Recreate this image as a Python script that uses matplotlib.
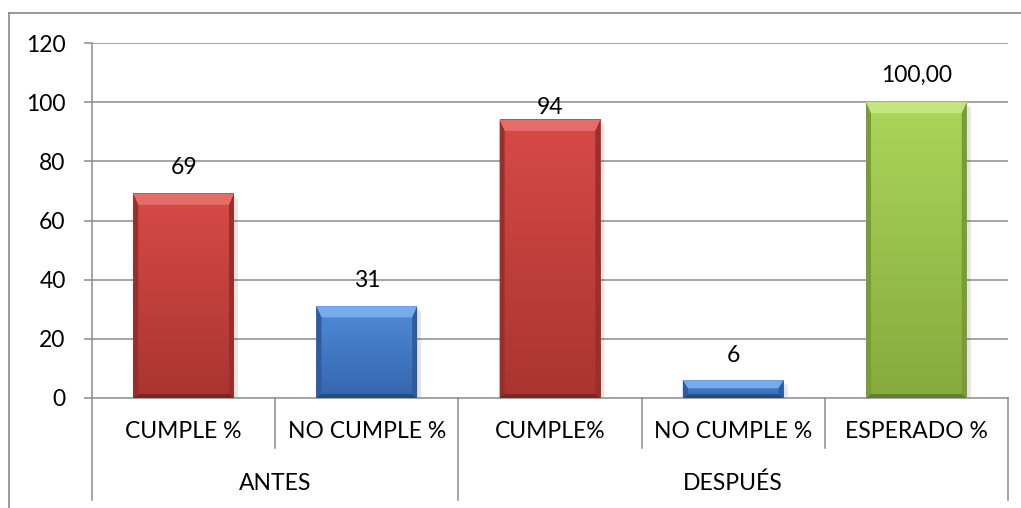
import matplotlib
matplotlib.use("Agg")
import matplotlib.pyplot as plt
import numpy as np
from matplotlib.colors import to_rgb
from matplotlib.patches import Polygon
from matplotlib.lines import Line2D

# ---- data ----
groups = ["ANTES", "DESPUÉS"]
group_sizes = [2, 3]
categories = ["CUMPLE %", "NO CUMPLE %", "CUMPLE%", "NO CUMPLE %", "ESPERADO %"]
values = [69, 31, 94, 6, 100]
decimals = [0, 0, 0, 0, 2]
y_ticks = [0, 20, 40, 60, 80, 100, 120]

# ---- style ----
palettes = {
    "red":   dict(top="#D74A46", bottom="#AA3431", bevel="#E56C68", side="#9A2E2B", base="#7E2422"),
    "blue":  dict(top="#508BD7", bottom="#3466AE", bevel="#78ABEB", side="#2F5C9E", base="#244A82"),
    "green": dict(top="#AAD65A", bottom="#86AB3E", bevel="#C3E67E", side="#7A9C36", base="#62802A"),
}
bar_palettes = ["red", "blue", "red", "blue", "green"]
label_offsets_px = [26, 26, 12, 25, 27]
grid_color = "#8C8C8C"
text_color = "#000000"
font = "Lato"
fsize = 16.5

W, H = 1021, 508
fig = plt.figure(figsize=(W / 100, H / 100), dpi=100)
fig.patch.set_facecolor("white")

ax_left, ax_right, ax_bottom, ax_top = 92, 1008, 398, 43
ax = fig.add_axes([ax_left / W, (H - ax_bottom) / H,
                   (ax_right - ax_left) / W, (ax_bottom - ax_top) / H])
n = len(categories)
xs = np.arange(n)
ax.set_xlim(-0.5, n - 0.5)
ax.set_ylim(0, 120)

# outer chart frame
fig.add_artist(Line2D([9 / W, 1.0], [(H - 13) / H] * 2, color="#898989", lw=1.2))
fig.add_artist(Line2D([9 / W] * 2, [0, (H - 13) / H], color="#898989", lw=1.2))

# grid and axes
for y in y_ticks[1:]:
    ax.axhline(y, color=grid_color, lw=1.1, zorder=1)
for s in ["top", "right"]:
    ax.spines[s].set_visible(False)
ax.spines["bottom"].set_color(grid_color)
ax.spines["bottom"].set_linewidth(1.1)
ax.spines["left"].set_visible(False)
ax.set_yticks(y_ticks)
ax.set_yticklabels([str(t) for t in y_ticks], fontsize=fsize, family=font, color=text_color)
ax.tick_params(axis="y", length=6, width=1.1, color=grid_color, pad=13, direction="out")
ax.set_xticks([])

bars = ax.bar(xs, values, width=0.55, color="none", edgecolor="none", zorder=3)

ax.figure.canvas.draw()
to_disp = ax.transData
to_data = ax.transData.inverted()


def blend(c1, c2, t):
    a, b = np.array(to_rgb(c1)), np.array(to_rgb(c2))
    return a + (b - a) * t


for patch, pal_name in zip(bars, bar_palettes):
    pal = palettes[pal_name]
    x0, y0 = patch.get_x(), patch.get_y()
    x1, y1 = x0 + patch.get_width(), y0 + patch.get_height()
    # body gradient, lighter at the top
    grad = np.array([blend(pal["top"], pal["bottom"], t) for t in np.linspace(0, 1, 64)])
    ax.imshow(grad[:, None, :], extent=(x0, x1, y0, y1), aspect="auto",
              interpolation="bilinear", zorder=3, origin="upper")
    (L, B), (R, T) = to_disp.transform([(x0, y0), (x1, y1)])
    hpx = T - B
    t = min(11, hpx * 0.45)
    s = 5
    b = min(4, hpx * 0.2)
    # soft shadow on the right
    sh = [(R, T - 3), (R + 4, T - 5), (R + 4, B), (R, B)]
    ax.add_patch(Polygon(to_data.transform(sh), closed=True, facecolor="#000000",
                         alpha=0.10, edgecolor="none", zorder=2))
    faces = [
        ([(L, T), (R, T), (R - s, T - t), (L + s, T - t)], pal["bevel"]),
        ([(L, T), (L + s, T - t), (L + s, B + b), (L, B)], pal["side"]),
        ([(R, T), (R, B), (R - s, B + b), (R - s, T - t)], pal["side"]),
        ([(L, B), (L + s, B + b), (R - s, B + b), (R, B)], pal["base"]),
    ]
    for pts, col in faces:
        ax.add_patch(Polygon(to_data.transform(pts), closed=True, facecolor=col,
                             edgecolor="none", zorder=4))

ax.set_xlim(-0.5, n - 0.5)
ax.set_ylim(0, 120)

# value labels
for x, v, d, off in zip(xs, values, decimals, label_offsets_px):
    txt = f"{v:.{d}f}".replace(".", ",")
    ax.annotate(txt, (x, v), xytext=(0, off * 0.72), textcoords="offset points",
                ha="center", va="center", fontsize=fsize, family=font, color=text_color,
                zorder=6)

# two-level category axis
ax_h = ax_bottom - ax_top
short_y = -(448 - ax_bottom) / ax_h
long_y = -(500 - ax_bottom) / ax_h
cat_y = -(432 - ax_bottom) / ax_h
grp_y = -(483 - ax_bottom) / ax_h
trans = ax.get_xaxis_transform()

bounds = np.cumsum([0] + group_sizes) - 0.5
for i in range(n + 1):
    xb = i - 0.5
    is_group_edge = np.any(np.isclose(bounds, xb))
    yb = long_y if is_group_edge else short_y
    top = 1.0 if i == 0 else 0.0
    ax.add_line(Line2D([xb, xb], [top, yb], transform=trans, color=grid_color,
                       lw=1.1, clip_on=False))

for x, c in zip(xs, categories):
    ax.text(x, cat_y, c, transform=trans, ha="center", va="center",
            fontsize=fsize, family=font, color=text_color)
for gi, g in enumerate(groups):
    center = (bounds[gi] + bounds[gi + 1]) / 2
    ax.text(center, grp_y, g, transform=trans, ha="center", va="center",
            fontsize=fsize, family=font, color=text_color)

fig.savefig("out.png", dpi=100, facecolor="white")
